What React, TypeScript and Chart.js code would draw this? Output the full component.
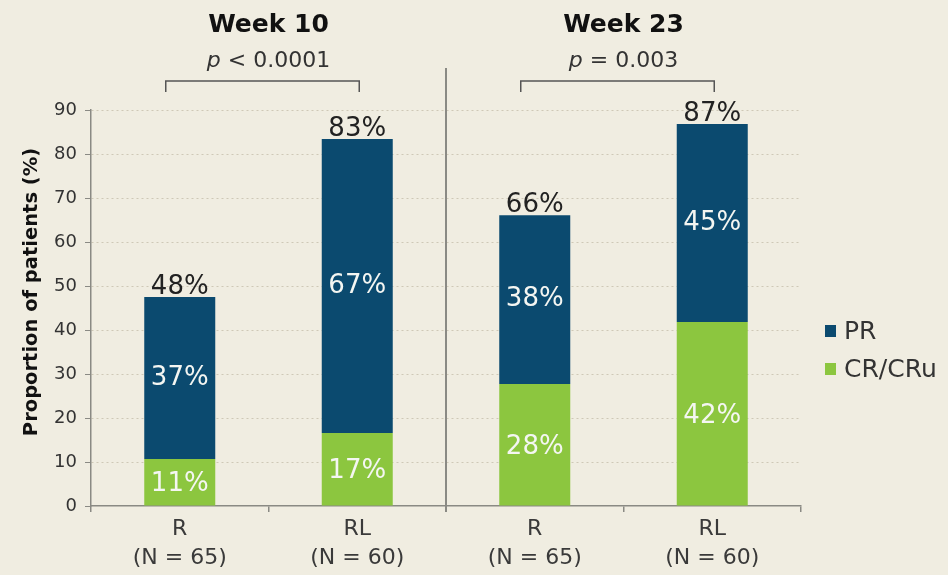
import React, { useEffect, useRef } from "react";
import { Chart, registerables } from "chart.js";

Chart.register(...registerables);

const categories: string[][] = [["R", "(N = 65)"], ["RL", "(N = 60)"], ["R", "(N = 65)"], ["RL", "(N = 60)"]];
const crValues = [10.7, 16.6, 27.7, 41.8];
const prValues = [36.8, 66.8, 38.4, 45.0];
const crLabels = ["11%", "17%", "28%", "42%"];
const prLabels = ["37%", "67%", "38%", "45%"];
const totalLabels = ["48%", "83%", "66%", "87%"];
const groupTitles = ["Week 10", "Week 23"];
const pPrefix = ["p", "p"];
const pTexts = [" < 0.0001", " = 0.003"];
const yTicks = [0, 10, 20, 30, 40, 50, 60, 70, 80, 90];

const NAVY = "#0b4a6f";
const GREEN = "#8cc63f";
const BG = "#f0ede1";
const FONT = "'DejaVu Sans', Verdana, sans-serif";

export default function App() {
  const ref = useRef<HTMLCanvasElement | null>(null);
  useEffect(() => {
    document.body.style.margin = "0";
    const canvas = ref.current!;
    const overlay = {
      id: "overlay",
      beforeDraw(chart: any) {
        const c = chart.ctx;
        c.save();
        c.fillStyle = BG;
        c.fillRect(0, 0, chart.width, chart.height);
        c.restore();
      },
      afterDatasetsDraw(chart: any) {
        const c = chart.ctx;
        const xs = chart.scales.x;
        const area = chart.chartArea;
        c.save();
        // divider
        const midX = (xs.getPixelForValue(1) + xs.getPixelForValue(2)) / 2;
        c.strokeStyle = "#8a8a84";
        c.lineWidth = 2;
        c.beginPath();
        c.moveTo(midX, 68);
        c.lineTo(midX, area.bottom + 6);
        c.stroke();

        // value labels
        const m0 = chart.getDatasetMeta(0);
        const m1 = chart.getDatasetMeta(1);
        c.textAlign = "center";
        c.textBaseline = "middle";
        c.font = `26px ${FONT}`;
        for (let i = 0; i < crValues.length; i++) {
          const b0 = m0.data[i];
          const b1 = m1.data[i];
          c.fillStyle = "#f4f6f2";
          c.fillText(crLabels[i], b0.x, (b0.y + b0.base) / 2 + 2);
          c.fillText(prLabels[i], b1.x, (b1.y + b1.base) / 2);
          c.fillStyle = "#222222";
          c.textBaseline = "alphabetic";
          c.fillText(totalLabels[i], b1.x, b1.y - 3);
          c.textBaseline = "middle";
        }

        // group titles, p-values, brackets
        for (let g = 0; g < 2; g++) {
          const xa = xs.getPixelForValue(g * 2);
          const xb = xs.getPixelForValue(g * 2 + 1);
          const cx = (xa + xb) / 2;
          c.fillStyle = "#111111";
          c.font = `bold 25px ${FONT}`;
          c.textAlign = "center";
          c.fillText(groupTitles[g], cx, 25);
          c.font = `italic 22px ${FONT}`;
          const pw = c.measureText(pPrefix[g]).width;
          c.font = `22px ${FONT}`;
          const rw = c.measureText(pTexts[g]).width;
          const sx = cx - (pw + rw) / 2;
          c.fillStyle = "#333333";
          c.textAlign = "left";
          c.font = `italic 22px ${FONT}`;
          c.fillText(pPrefix[g], sx, 61);
          c.font = `22px ${FONT}`;
          c.fillText(pTexts[g], sx + pw, 61);
          const l = xa - 14;
          const r = xb + 2;
          c.strokeStyle = "#555555";
          c.lineWidth = 1.5;
          c.beginPath();
          c.moveTo(l, 92);
          c.lineTo(l, 81);
          c.lineTo(r, 81);
          c.lineTo(r, 92);
          c.stroke();
        }

        // y-axis title
        c.save();
        c.translate(32, 292);
        c.rotate(-Math.PI / 2);
        c.font = `bold 19.5px ${FONT}`;
        c.fillStyle = "#111111";
        c.textAlign = "center";
        c.textBaseline = "middle";
        c.fillText("Proportion of patients (%)", 0, 0);
        c.restore();

        // legend
        const items = [
          { label: "PR", color: NAVY, y: 331 },
          { label: "CR/CRu", color: GREEN, y: 369 },
        ];
        c.font = `25px ${FONT}`;
        c.textAlign = "left";
        c.textBaseline = "middle";
        for (const it of items) {
          c.fillStyle = it.color;
          c.fillRect(825, it.y - 6, 11, 12);
          c.fillStyle = "#333333";
          c.fillText(it.label, 844, it.y + 1);
        }
        c.restore();
      },
    };

    const chart = new Chart(canvas, {
      type: "bar",
      data: {
        labels: categories,
        datasets: [
          { label: "CR/CRu", data: crValues, backgroundColor: GREEN, barPercentage: 0.4, categoryPercentage: 1 },
          { label: "PR", data: prValues, backgroundColor: NAVY, barPercentage: 0.4, categoryPercentage: 1 },
        ],
      },
      options: {
        responsive: false,
        animation: false,
        layout: { padding: { left: 0, right: 147, top: 110, bottom: 0 } },
        plugins: { legend: { display: false }, tooltip: { enabled: false } },
        scales: {
          x: {
            stacked: true,
            offset: true,
            grid: { display: true, drawOnChartArea: false, drawTicks: true, tickLength: 6, color: "#8a8a84", lineWidth: 1.5, offset: true },
            border: { display: true, color: "#8a8a84", width: 1.5 },
            ticks: { color: "#3a3a3a", font: { family: FONT, size: 22, lineHeight: 1.32 }, padding: 3, maxRotation: 0 },
            afterFit: (s: any) => { s.height = 69; },
          },
          y: {
            stacked: true,
            min: 0,
            max: 90,
            afterBuildTicks: (s: any) => { s.ticks = yTicks.map((v) => ({ value: v })); },
            grid: {
              color: (ctx: any) => (ctx.tick && ctx.tick.value === 0 ? "rgba(0,0,0,0)" : "#cfc8b6"),
              lineWidth: 1,
              drawTicks: true,
              tickLength: 6,
              tickColor: "#8a8a84",
              tickBorderDash: [],
            } as any,
            border: { display: true, color: "#8a8a84", width: 1.5, dash: [2, 3] },
            ticks: { color: "#333333", font: { family: FONT, size: 18 }, padding: 8 },
            afterFit: (s: any) => { s.width = 91; },
          },
        },
      },
      plugins: [overlay],
    });
    return () => chart.destroy();
  }, []);
  return (
    <div style={{ width: 948, height: 575 }}>
      <canvas ref={ref} width={948} height={575} />
    </div>
  );
}
